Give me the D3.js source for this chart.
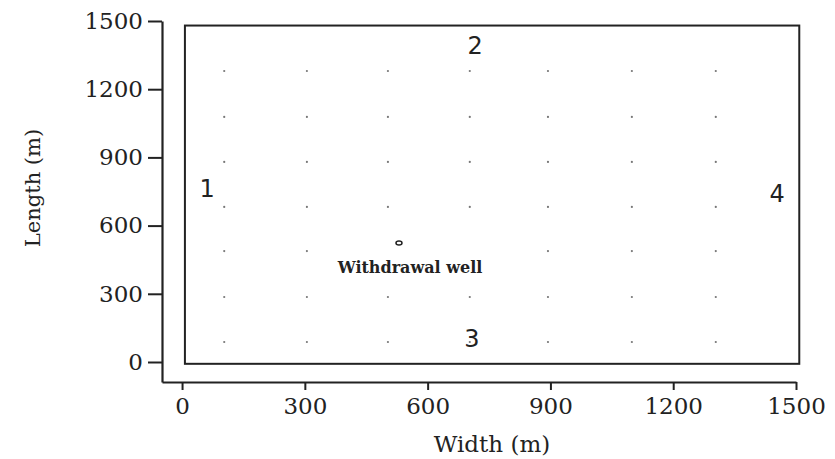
<!DOCTYPE html>
<html>
<head>
<meta charset="utf-8">
<script src="https://cdn.jsdelivr.net/npm/d3@7"></script>
<style>
  body { margin: 0; background: #fff; }
  svg text { fill: #222; }
</style>
</head>
<body>
<svg id="chart" width="835" height="459"></svg>
<script>
const gridX = [103, 305, 503, 703, 894, 1099, 1304];
const gridY = [88, 286, 488, 682, 880, 1078, 1280];
// grid points covered by the well label
const skipped = [[503, 488], [703, 488]];

const well = { x: 530, y: 523, label: "Withdrawal well", labelX: 557, labelY: 391 };

// boundary numbers
const boundaries = [
  { name: "1", x: 61, y: 765 },
  { name: "2", x: 716, y: 1394 },
  { name: "3", x: 708, y: 106 },
  { name: "4", x: 1454, y: 744 }
];

const domainBox = { x: [7, 1508], y: [-8, 1480] };
const xTicks = [0, 300, 600, 900, 1200, 1500];
const yTicks = [0, 300, 600, 900, 1200, 1500];

const svg = d3.select("#chart");

const x = d3.scaleLinear().domain([-49, 1500]).range([162, 796]);
const y = d3.scaleLinear().domain([-88, 1500]).range([382, 21]);
const fmt = d3.format("d");

// axes
const xAxis = svg.append("g")
  .attr("transform", `translate(0, ${y(-88)})`)
  .call(d3.axisBottom(x).tickValues(xTicks).tickFormat(fmt).tickSize(8).tickSizeOuter(0).tickPadding(8));

const yAxis = svg.append("g")
  .attr("transform", `translate(${x(-49)}, 0)`)
  .call(d3.axisLeft(y).tickValues(yTicks).tickFormat(fmt).tickSize(14).tickSizeOuter(0).tickPadding(5));

[xAxis, yAxis].forEach(g => {
  g.select(".domain").attr("stroke", "#222").attr("stroke-width", 2.2);
  g.selectAll(".tick line").attr("stroke", "#222").attr("stroke-width", 2);
  g.selectAll(".tick text")
    .attr("font-family", "DejaVu Serif")
    .attr("font-size", 23)
    .attr("fill", "#222");
});

// model domain outline
svg.append("rect")
  .attr("x", x(domainBox.x[0]))
  .attr("y", y(domainBox.y[1]))
  .attr("width", x(domainBox.x[1]) - x(domainBox.x[0]))
  .attr("height", y(domainBox.y[0]) - y(domainBox.y[1]))
  .attr("fill", "none")
  .attr("stroke", "#222")
  .attr("stroke-width", 2);

// grid of points
const pts = [];
gridY.forEach(gy => gridX.forEach(gx => {
  if (!skipped.some(s => s[0] === gx && s[1] === gy)) pts.push([gx, gy]);
}));

svg.append("g")
  .selectAll("circle")
  .data(pts)
  .enter()
  .append("circle")
  .attr("cx", d => x(d[0]))
  .attr("cy", d => y(d[1]))
  .attr("r", 1.1)
  .attr("fill", "#777");

// withdrawal well
svg.append("ellipse")
  .attr("cx", x(well.x))
  .attr("cy", y(well.y))
  .attr("rx", 3)
  .attr("ry", 2)
  .attr("fill", "none")
  .attr("stroke", "#222")
  .attr("stroke-width", 1.5);

svg.append("text")
  .attr("x", x(well.labelX))
  .attr("y", y(well.labelY))
  .attr("text-anchor", "middle")
  .attr("font-family", "DejaVu Serif")
  .attr("font-weight", "bold")
  .attr("font-size", 16)
  .text(well.label);

// boundary labels
svg.append("g")
  .selectAll("text")
  .data(boundaries)
  .enter()
  .append("text")
  .attr("x", d => x(d.x))
  .attr("y", d => y(d.y))
  .attr("dy", "0.36em")
  .attr("text-anchor", "middle")
  .attr("font-family", "DejaVu Sans")
  .attr("font-size", 24)
  .text(d => d.name);

// axis titles
svg.append("text")
  .attr("x", 492)
  .attr("y", 452)
  .attr("text-anchor", "middle")
  .attr("font-family", "DejaVu Serif")
  .attr("font-size", 23)
  .text("Width (m)");

svg.append("text")
  .attr("transform", "translate(40, 188) rotate(-90)")
  .attr("text-anchor", "middle")
  .attr("font-family", "DejaVu Serif")
  .attr("font-size", 21)
  .text("Length (m)");
</script>
</body>
</html>
